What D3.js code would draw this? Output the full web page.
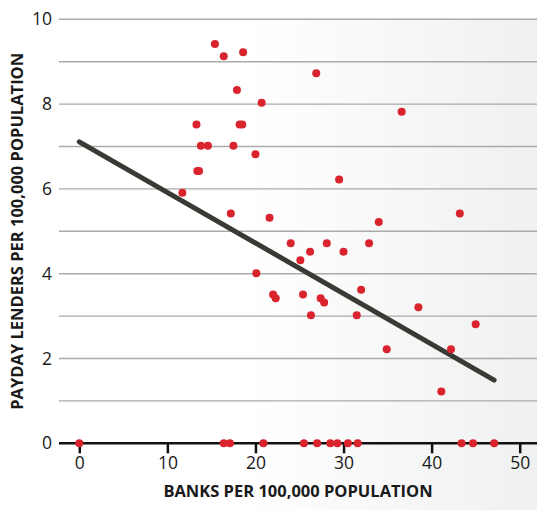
<!DOCTYPE html>
<html lang="en">
<head>
  <meta charset="UTF-8">
  <title>Payday lenders vs banks</title>
  <style>
    * { padding: 0; margin: 0; }
    body { background: #fff; font-family: "Open Sans", "Noto Sans", sans-serif; }
  </style>
</head>
<body>
  <svg id="svg"></svg>
  <script src="https://cdnjs.cloudflare.com/ajax/libs/d3/7.8.5/d3.min.js"></script>
  <script>
    // banks per 100k (x) and payday lenders per 100k (y)
    const banks = [15.4, 16.4, 18.6, 17.9, 20.7, 13.3, 18.2, 18.5, 13.8, 14.6,
      17.5, 20.0, 13.4, 13.6, 11.7, 17.2, 21.6, 26.9, 36.6, 29.5,
      34.0, 43.2, 24.0, 28.1, 32.9, 26.2, 30.0, 25.1, 20.1, 22.0,
      22.3, 25.4, 27.4, 27.8, 26.3, 31.5, 32.0, 38.5, 45.0, 34.9,
      42.2, 41.1,
      0, 16.4, 17.1, 20.9, 25.5, 27.0, 28.5, 29.3, 30.5, 31.6, 43.4, 44.7, 47.1];
    const lenders = [9.42, 9.13, 9.22, 8.33, 8.03, 7.52, 7.52, 7.52, 7.02, 7.02,
      7.02, 6.82, 6.42, 6.42, 5.91, 5.42, 5.32, 8.73, 7.82, 6.22,
      5.22, 5.42, 4.72, 4.72, 4.72, 4.52, 4.52, 4.32, 4.01, 3.51,
      3.42, 3.51, 3.42, 3.32, 3.02, 3.02, 3.62, 3.21, 2.81, 2.22,
      2.22, 1.22,
      0, 0, 0, 0, 0, 0, 0, 0, 0, 0, 0, 0, 0];
    // trend line end points
    const trendX = [0, 47.1];
    const trendY = [7.11, 1.49];
    const xTicks = [0, 10, 20, 30, 40, 50];
    const yTicks = [0, 2, 4, 6, 8, 10];

    const width = 537, height = 510;
    const svg = d3.select('#svg').attr('width', width).attr('height', height);

    const x = d3.scaleLinear().domain([0, 50]).range([79.3, 519.7]);
    const y = d3.scaleLinear().domain([0, 10]).range([443.3, 19.3]);
    const left = 59, right = 537;

    const defs = svg.append('defs');
    const grad = defs.append('linearGradient').attr('id', 'bg')
      .attr('x1', '0%').attr('x2', '100%').attr('y1', '0%').attr('y2', '0%');
    grad.append('stop').attr('offset', '0%').attr('stop-color', '#ffffff');
    grad.append('stop').attr('offset', '45%').attr('stop-color', '#ffffff');
    grad.append('stop').attr('offset', '100%').attr('stop-color', '#eff0f0');

    svg.append('rect')
      .attr('x', 6).attr('y', y(10)).attr('width', width - 6).attr('height', height - y(10))
      .attr('fill', 'url(#bg)');

    // gridlines every 1 unit
    svg.append('g')
      .selectAll('line')
      .data(d3.range(1, 11))
      .join('line')
      .attr('x1', left).attr('x2', right)
      .attr('y1', d => y(d)).attr('y2', d => y(d))
      .attr('stroke', '#aaaaaa')
      .attr('stroke-width', 1.4);

    // x axis
    const xAxis = d3.axisBottom(x).tickValues(xTicks).tickSize(10).tickPadding(3);
    const gx = svg.append('g')
      .attr('transform', `translate(0, ${y(0)})`)
      .call(xAxis);
    gx.select('.domain').remove();
    gx.selectAll('.tick line').attr('stroke', '#111').attr('stroke-width', 2.5);
    gx.selectAll('.tick text').attr('fill', '#1a1a1a')
      .style('font-size', '17.5px').style('font-family', '"Open Sans", sans-serif');
    svg.append('line')
      .attr('x1', left).attr('x2', right)
      .attr('y1', y(0)).attr('y2', y(0))
      .attr('stroke', '#111').attr('stroke-width', 2.5);

    // y labels
    const yAxis = d3.axisLeft(y).tickValues(yTicks).tickSize(0).tickPadding(0);
    const gy = svg.append('g')
      .attr('transform', `translate(52, 0)`)
      .call(yAxis);
    gy.select('.domain').remove();
    gy.selectAll('.tick text').attr('fill', '#1a1a1a')
      .style('font-size', '17.5px').style('font-family', '"Open Sans", sans-serif');

    // trend line
    svg.append('line')
      .attr('x1', x(trendX[0])).attr('y1', y(trendY[0]))
      .attr('x2', x(trendX[1])).attr('y2', y(trendY[1]))
      .attr('stroke', '#3a3a34')
      .attr('stroke-width', 5)
      .attr('stroke-linecap', 'round');

    // points
    svg.append('g')
      .selectAll('circle')
      .data(banks.map((b, i) => [b, lenders[i]]))
      .join('circle')
      .attr('cx', d => x(d[0]))
      .attr('cy', d => y(d[1]))
      .attr('r', 4)
      .attr('fill', '#d9232d');

    // axis titles
    svg.append('text')
      .attr('x', (left + right) / 2).attr('y', 497)
      .attr('text-anchor', 'middle')
      .style('font-size', '16.5px').style('font-weight', 'bold')
      .style('font-family', '"Open Sans", sans-serif')
      .attr('fill', '#1a1a1a')
      .text('BANKS PER 100,000 POPULATION');

    svg.append('text')
      .attr('transform', `translate(23, ${(y(0) + y(10)) / 2}) rotate(-90)`)
      .attr('text-anchor', 'middle')
      .style('font-size', '16.5px').style('font-weight', 'bold')
      .style('font-family', '"Open Sans", sans-serif')
      .attr('fill', '#1a1a1a')
      .text('PAYDAY LENDERS PER 100,000 POPULATION');
  </script>
</body>
</html>
